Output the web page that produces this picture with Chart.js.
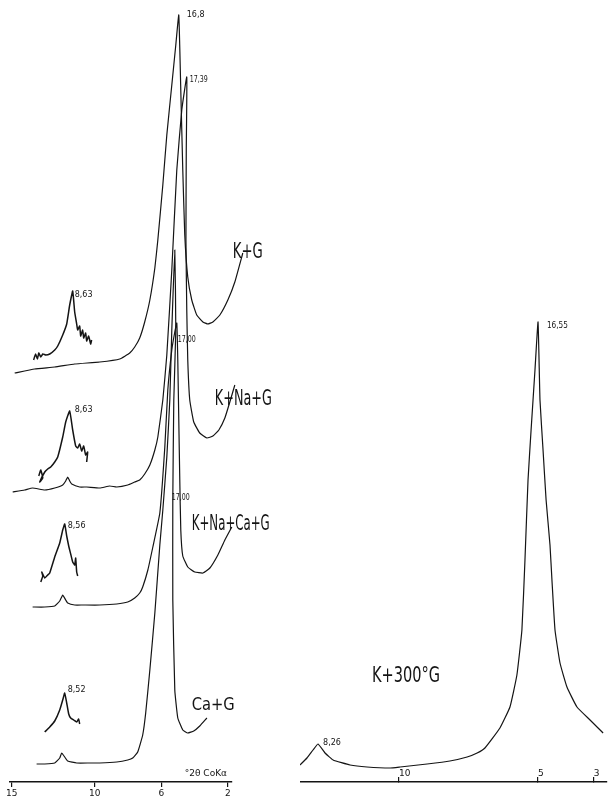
<!DOCTYPE html>
<html>
<head>
<meta charset="utf-8">
<script src="https://cdn.jsdelivr.net/npm/chart.js@4.4.1/dist/chart.umd.min.js"></script>
<style>
  html, body { margin: 0; padding: 0; background: #fff; }
  body { width: 611px; height: 800px; position: relative; overflow: hidden; }
  .panel { position: absolute; top: 0; height: 800px; }
  #left { left: 0; width: 300px; }
  #right { left: 300px; width: 311px; }
</style>
</head>
<body>
<div class="panel" id="left"><canvas id="leftChart"></canvas></div>
<div class="panel" id="right"><canvas id="rightChart"></canvas></div>
<script>
// °2θ (CoKα) tick labels of the two recorder strips
const leftTicks = [15, 10, 6, 2];
const rightTicks = [10, 5, 3];

// K+G (°2θ, counts with the recorder offset)
const kgX = [14.82, 13.62, 12.41, 11.21, 9.70, 8.50, 7.90, 7.60, 7.30, 7.00, 6.69, 6.39, 6.21, 5.91, 5.67, 5.37, 5.13, 4.95, 4.83, 4.71, 4.59, 4.41, 4.17, 3.87, 3.50, 3.20, 2.90, 2.48, 2.00, 1.58, 1.10];
const kgY = [409, 413, 415, 418, 420, 423, 429, 435, 444, 460, 482, 514, 542, 597, 647, 697, 737, 767, 692, 612, 547, 505, 482, 467, 460, 458, 460, 467, 482, 500, 529];
const kgInX = [13.68, 13.56, 13.45, 13.37, 13.25, 13.13, 12.95, 12.71, 12.41, 12.23, 11.93, 11.69, 11.51, 11.33, 11.21, 11.09, 11.03, 10.91, 10.85, 10.73, 10.67, 10.55, 10.49, 10.37, 10.25, 10.19];
const kgInY = [422, 428, 423, 429, 425, 428, 427, 428, 432, 436, 447, 458, 477, 491, 470, 458, 452, 456, 446, 452, 444, 449, 441, 446, 438, 442];

// K+Na+G
const knaX = [14.94, 14.22, 13.74, 13.01, 12.41, 11.93, 11.75, 11.63, 11.51, 11.39, 10.91, 10.49, 9.70, 9.10, 8.68, 8.02, 7.60, 7.30, 7.00, 6.69, 6.39, 6.21, 5.91, 5.67, 5.37, 5.07, 4.77, 4.47, 4.50, 4.52, 4.47, 4.41, 4.29, 4.05, 3.69, 3.26, 2.90, 2.54, 2.18, 1.88, 1.58];
const knaY = [290, 292, 294, 292, 294, 297, 301, 305, 301, 298, 295, 295, 294, 296, 295, 297, 300, 302, 308, 317, 332, 345, 382, 427, 512, 612, 672, 705, 632, 542, 472, 422, 382, 360, 349, 344, 346, 352, 364, 380, 397];
const knaInX = [13.37, 13.25, 13.13, 13.31, 13.01, 12.83, 12.65, 12.41, 12.23, 11.93, 11.75, 11.51, 11.33, 11.15, 11.03, 10.91, 10.79, 10.67, 10.55, 10.43, 10.49];
const knaInY = [306, 312, 304, 300, 310, 313, 315, 320, 325, 345, 360, 371, 352, 336, 334, 338, 331, 336, 327, 330, 320];

// K+Na+Ca+G
const kncX = [13.74, 13.01, 12.41, 12.11, 11.93, 11.75, 11.63, 11.21, 10.73, 9.70, 8.68, 8.02, 7.60, 7.30, 7.12, 6.81, 6.51, 6.09, 5.79, 5.61, 5.37, 5.19, 5.07, 5.01, 4.95, 4.89, 4.83, 4.71, 4.41, 3.99, 3.50, 3.08, 2.60, 2.18, 1.76];
const kncY = [175, 175, 176, 181, 187, 182, 179, 177, 177, 177, 178, 180, 184, 189, 195, 212, 235, 269, 335, 392, 432, 450, 459, 422, 362, 302, 252, 226, 215, 210, 209, 214, 227, 242, 255];
const kncInX = [13.25, 13.13, 13.19, 13.01, 12.83, 12.71, 12.41, 12.11, 11.93, 11.81, 11.69, 11.57, 11.45, 11.33, 11.21, 11.15, 11.09, 11.03];
const kncInY = [200, 206, 210, 204, 207, 209, 225, 239, 252, 258, 246, 236, 228, 220, 217, 224, 210, 206];

// Ca+G
const caX = [13.50, 13.01, 12.41, 12.11, 11.99, 11.81, 11.63, 11.09, 10.31, 9.70, 8.68, 8.02, 7.72, 7.42, 7.12, 6.94, 6.69, 6.39, 6.09, 5.91, 5.67, 5.49, 5.37, 5.19, 5.13, 5.25, 5.31, 5.31, 5.19, 5.01, 4.71, 4.41, 4.05, 3.69, 3.26];
const caY = [18, 18, 19, 24, 29, 25, 21, 19, 19, 19, 20, 22, 24, 30, 47, 69, 112, 169, 237, 272, 325, 382, 452, 532, 452, 382, 282, 182, 92, 64, 52, 49, 51, 56, 64];
const caInX = [13.01, 12.71, 12.41, 12.11, 11.93, 11.81, 11.69, 11.57, 11.45, 11.27, 11.09, 10.97, 10.91];
const caInY = [50, 55, 61, 72, 82, 89, 79, 68, 64, 62, 60, 63, 58];

// K+300°G (right strip)
const k300X = [13.56, 13.31, 13.09, 12.91, 12.66, 12.37, 11.76, 11.15, 10.32, 9.96, 8.99, 8.17, 7.55, 7.19, 6.91, 6.37, 6.01, 5.76, 5.58, 5.47, 5.36, 5.25, 5.11, 5.00, 4.93, 4.82, 4.71, 4.57, 4.50, 4.39, 4.21, 3.96, 3.60, 3.13, 2.66];
const k300Y = [17, 24, 32, 38, 29, 22, 17, 15, 14, 15, 18, 21, 25, 29, 34, 54, 75, 107, 152, 222, 302, 352, 412, 460, 382, 332, 282, 237, 202, 152, 119, 95, 75, 62, 49];

// d-spacing tags (Å) and sample names, placed in chart units
const leftTags = ["16,8", "17,39", "17,00", "17,00", "8,63", "8,63", "8,56", "8,52"];
const leftTagAt = [[4.47, 765], [4.29, 700], [5.01, 440], [5.37, 282], [11.21, 485], [11.21, 370], [11.63, 254], [11.63, 90]];
const leftNames = ["K+G", "K+Na+G", "K+Na+Ca+G", "Ca+G"];
const leftNameAt = [[1.70, 524], [2.78, 377], [4.17, 252], [4.17, 72]];
const rightTags = ["16,55", "8,26"];
const rightTagAt = [[4.68, 454], [12.73, 37]];

const ink = "#141414";
const pts = (xs, ys) => xs.map((x, i) => ({ x, y: ys[i] }));
const trace = (xs, ys, w) => ({
  data: pts(xs, ys), borderColor: ink, borderWidth: w || 1.2,
  pointRadius: 0, tension: 0.12, fill: false, clip: false,
});

const textMarks = {
  id: "textMarks",
  afterDatasetsDraw(chart, args, opts) {
    const { ctx, scales } = chart;
    ctx.save();
    ctx.fillStyle = ink;
    ctx.textBaseline = "alphabetic";
    (opts.items || []).forEach((m) => {
      ctx.font = m.font;
      ctx.fillText(m.text, scales.x.getPixelForValue(m.x), scales.y.getPixelForValue(m.y), m.w);
    });
    ctx.restore();
  },
};

const tagFont = "8px 'DejaVu Sans', sans-serif";
const nameFont = "21px 'DejaVu Sans', sans-serif";
const nameWidths = [30, 57, 78, 43];

const leftItems = leftTags
  .map((t, i) => ({ text: t, x: leftTagAt[i][0], y: leftTagAt[i][1], font: tagFont, w: 18 }))
  .concat(leftNames.map((t, i) => ({
    text: t, x: leftNameAt[i][0], y: leftNameAt[i][1],
    font: i === 3 ? "18px 'DejaVu Sans', sans-serif" : nameFont, w: nameWidths[i],
  })))
  .concat([{ text: "°2θ CoKα", x: 4.59, y: 6, font: "9px 'DejaVu Sans', sans-serif", w: 55 }]);

const rightItems = rightTags
  .map((t, i) => ({ text: t, x: rightTagAt[i][0], y: rightTagAt[i][1], font: tagFont, w: 21 }))
  .concat([{ text: "K+300°G", x: 10.97, y: 100, font: "21px 'DejaVu Sans', sans-serif", w: 68 }]);

function xAxis(min, max, ticks, extra) {
  return Object.assign({
    type: "linear", reverse: true, min, max,
    afterBuildTicks: (s) => { s.ticks = ticks.map((v) => ({ value: v })); },
    afterFit: (s) => { s.height = 18; },
    ticks: { color: ink, font: { size: 9, family: "DejaVu Sans" }, padding: 1, autoSkip: false, maxRotation: 0 },
    grid: { display: true, drawOnChartArea: false, drawTicks: true, tickLength: 5, color: ink, lineWidth: 1.2 },
    border: { display: true, color: ink, width: 1.5 },
  }, extra || {});
}

const yAxis = { display: false, min: 0, max: 782 };

new Chart(document.getElementById("leftChart"), {
  type: "line",
  data: {
    datasets: [
      trace(kgX, kgY), trace(kgInX, kgInY, 1.5),
      trace(knaX, knaY), trace(knaInX, knaInY, 1.5),
      trace(kncX, kncY), trace(kncInX, kncInY, 1.5),
      trace(caX, caY), trace(caInX, caInY, 1.5),
    ],
  },
  options: {
    responsive: true,
    maintainAspectRatio: false,
    animation: false,
    layout: { padding: { left: 10, right: 68, top: 0, bottom: 0 } },
    plugins: { legend: { display: false }, tooltip: { enabled: false }, textMarks: { items: leftItems } },
    scales: { x: xAxis(1.75, 15.1, leftTicks), y: yAxis },
  },
  plugins: [textMarks],
});

new Chart(document.getElementById("rightChart"), {
  type: "line",
  data: { datasets: [trace(k300X, k300Y)] },
  options: {
    responsive: true,
    maintainAspectRatio: false,
    animation: false,
    layout: { padding: { left: 0, right: 4, top: 0, bottom: 0 } },
    plugins: { legend: { display: false }, tooltip: { enabled: false }, textMarks: { items: rightItems } },
    scales: {
      x: xAxis(2.52, 13.56, rightTicks, {
        ticks: { color: ink, font: { size: 9, family: "DejaVu Sans" }, padding: 3, mirror: true, align: "start", autoSkip: false, maxRotation: 0 },
        grid: { display: true, drawOnChartArea: false, drawTicks: true, tickLength: -5, color: ink, lineWidth: 1.2 },
      }),
      y: yAxis,
    },
  },
  plugins: [textMarks],
});
</script>
</body>
</html>
